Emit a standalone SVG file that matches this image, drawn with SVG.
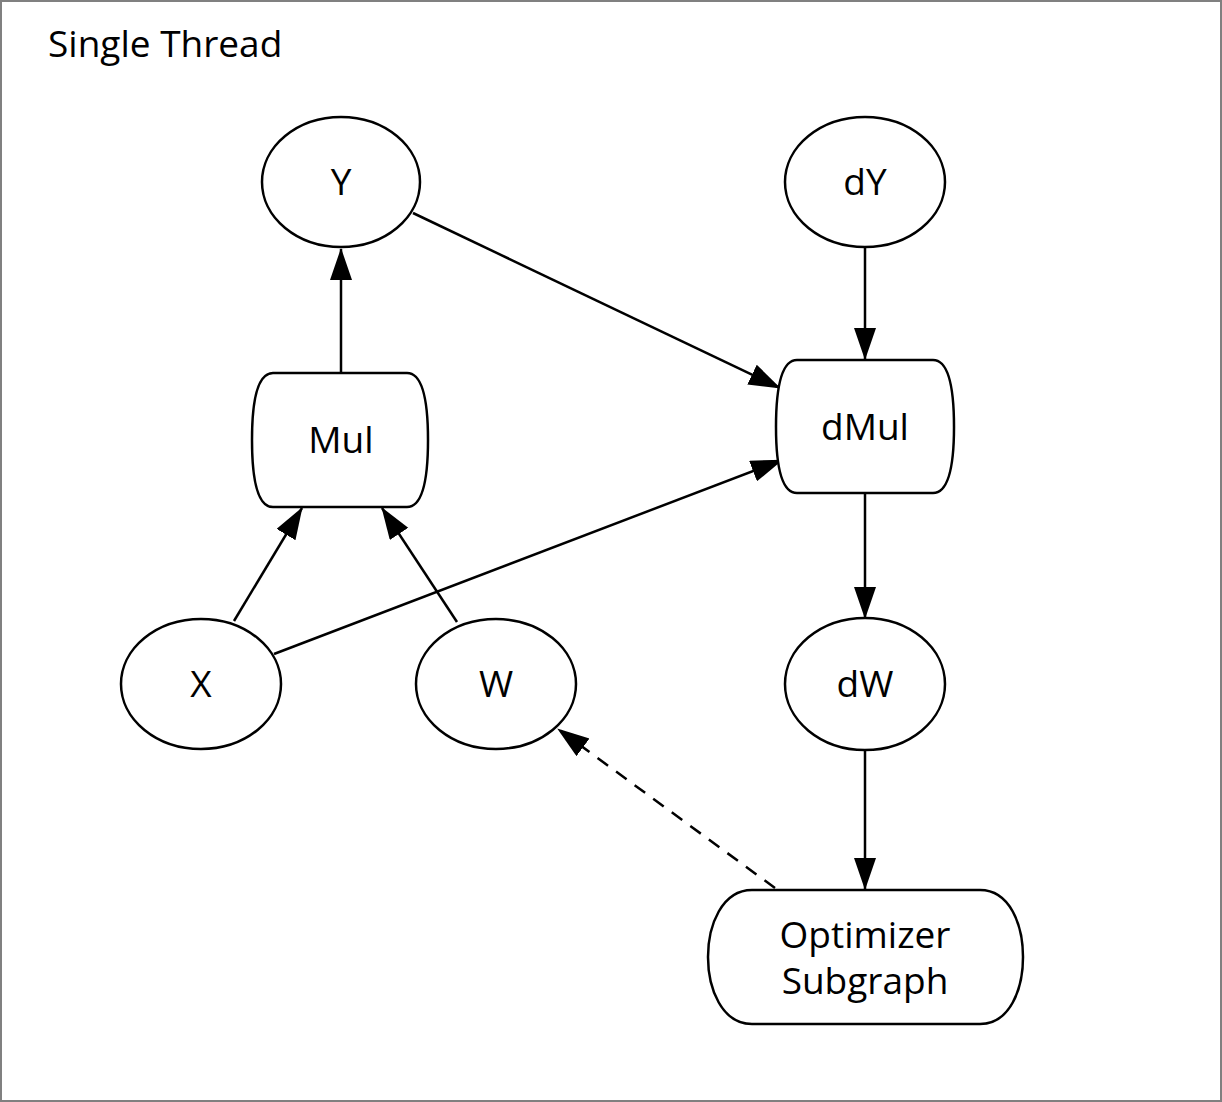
<svg xmlns="http://www.w3.org/2000/svg" width="1222" height="1102" viewBox="0 0 1222 1102">
<style>
text{font-family:"Open Sans","Noto Sans","DejaVu Sans",sans-serif;font-size:37px;fill:#000;text-anchor:middle}
.n{fill:#fff;stroke:#000;stroke-width:2.5}
.e{stroke:#000;stroke-width:2.5;fill:none;marker-end:url(#ah)}
.d{stroke-dasharray:13 10}
</style>
<defs>
<marker id="ah" markerUnits="userSpaceOnUse" markerWidth="32" markerHeight="24" refX="31" refY="11" orient="auto">
<path d="M0,0 L32,11 L0,22 z" fill="#000"/>
</marker>
</defs>
<rect x="1" y="1" width="1220" height="1100" fill="#fff" stroke="#808080" stroke-width="2"/>
<text x="48" y="57" style="text-anchor:start">Single Thread</text>
<g id="connectors">
<line class="e" x1="341" y1="373" x2="341" y2="249"/>
<line class="e" x1="413" y1="213" x2="780" y2="388"/>
<line class="e" x1="865" y1="248" x2="865" y2="359"/>
<line class="e" x1="234" y1="621" x2="302" y2="508"/>
<line class="e" x1="457" y1="622" x2="382" y2="508"/>
<line class="e" x1="274" y1="654" x2="782" y2="460"/>
<line class="e" x1="865" y1="493" x2="865" y2="618"/>
<line class="e" x1="865" y1="750" x2="865" y2="889"/>
<line class="e d" x1="775" y1="888" x2="558" y2="729"/>
</g>
<g id="Y"><ellipse class="n" cx="341" cy="182" rx="79" ry="65"/><text x="341" y="195">Y</text></g>
<g id="dY"><ellipse class="n" cx="865" cy="182" rx="80" ry="65"/><text x="865" y="195">dY</text></g>
<g id="Mul"><path class="n" d="M273,373 H407 C424,373 428,405 428,440 C428,475 424,507 407,507 H273 C256,507 252,475 252,440 C252,405 256,373 273,373 Z"/><text x="341" y="453">Mul</text></g>
<g id="dMul"><path class="n" d="M797,360 H933 C950,360 954,392 954,427 C954,462 950,493 933,493 H797 C780,493 776,462 776,427 C776,392 780,360 797,360 Z"/><text x="865" y="440">dMul</text></g>
<g id="X"><ellipse class="n" cx="201" cy="684" rx="80" ry="65"/><text x="201" y="697">X</text></g>
<g id="W"><ellipse class="n" cx="496" cy="684" rx="80" ry="65"/><text x="496" y="697">W</text></g>
<g id="dW"><ellipse class="n" cx="865" cy="684" rx="80" ry="66"/><text x="865" y="697">dW</text></g>
<g id="Optimizer"><path class="n" d="M752,890 H980 C1010,890 1023,925 1023,957 C1023,989 1010,1024 980,1024 H752 C722,1024 708,989 708,957 C708,925 722,890 752,890 Z"/><text x="865" y="948">Optimizer</text><text x="865" y="994">Subgraph</text></g>
</svg>
